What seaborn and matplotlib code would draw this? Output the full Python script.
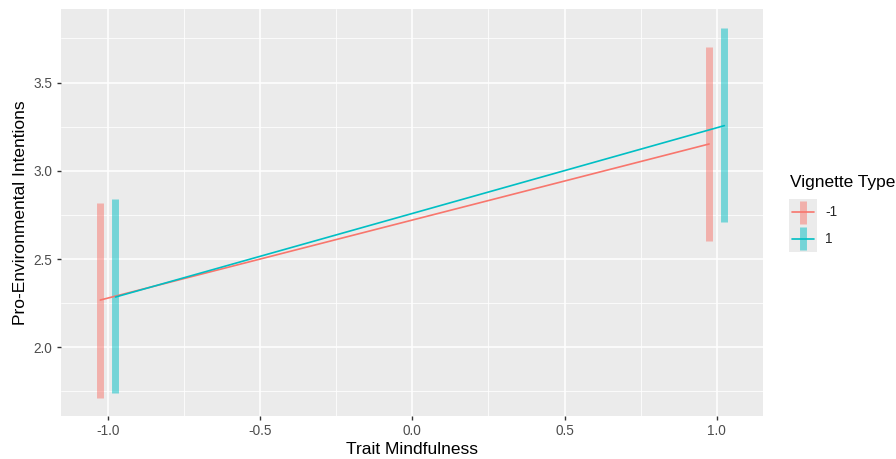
import numpy as np
import pandas as pd
import matplotlib
matplotlib.use("Agg")
import matplotlib.pyplot as plt
import seaborn as sns
from matplotlib.lines import Line2D
from matplotlib.patches import Rectangle
from matplotlib.legend_handler import HandlerBase

# ---- data ----
trait = [-1.0, 1.0]
groups = ["-1", "1"]
mean_neg = [2.268, 3.152]
mean_pos = [2.285, 3.256]
low_neg = [1.714, 2.604]
high_neg = [2.818, 3.700]
low_pos = [1.741, 2.712]
high_pos = [2.840, 3.807]
x_ticks = [-1.0, -0.5, 0.0, 0.5, 1.0]
y_ticks = [2.0, 2.5, 3.0, 3.5]

colors = {"-1": "#F8766D", "1": "#00BFC4"}
dodge = {"-1": -0.025, "1": 0.025}

rows = []
for g, m, lo, hi in [("-1", mean_neg, low_neg, high_neg), ("1", mean_pos, low_pos, high_pos)]:
    for t, mm, l, h in zip(trait, m, lo, hi):
        rows.append(dict(trait=t, x=t + dodge[g], group=g, mean=mm, low=l, high=h))
df = pd.DataFrame(rows)

sns.set_theme(style="darkgrid")
plt.rcParams["font.family"] = ["Liberation Sans", "DejaVu Sans"]

W, H = 896, 459
fig = plt.figure(figsize=(W / 100, H / 100), dpi=100)
L, R, T, B = 60.7, 763, 9.3, 416
ax = fig.add_axes([L / W, 1 - B / H, (R - L) / W, (B - T) / H])
ax.set_facecolor("#EBEBEB")

for g in groups:
    sub = df[df.group == g]
    ax.vlines(sub.x, sub.low, sub.high, color=colors[g], alpha=0.5, lw=5,
              zorder=2)

sns.lineplot(data=df, x="x", y="mean", hue="group", palette=colors,
             hue_order=groups, lw=1.2, ax=ax, legend=False, zorder=3,
             estimator=None, sort=True)

ax.set_xlim(-1.155, 1.152)
ax.set_ylim(1.611, 3.915)
ax.set_xticks(x_ticks)
ax.set_xticklabels([f"{v:.1f}" for v in x_ticks])
ax.set_yticks(y_ticks)
ax.set_yticklabels([f"{v:.1f}" for v in y_ticks])
ax.set_xticks([-0.75, -0.25, 0.25, 0.75], minor=True)
ax.set_yticks([1.75, 2.25, 2.75, 3.25, 3.75], minor=True)
ax.grid(which="major", color="white", lw=1.1)
ax.grid(which="minor", color="white", lw=0.55)
for s in ax.spines.values():
    s.set_visible(False)
ax.tick_params(axis="both", which="major", length=3, width=1, color="#333333",
               labelsize=9.8, labelcolor="#4D4D4D", pad=3, bottom=True, left=True)
ax.tick_params(axis="both", which="minor", length=0)
ax.set_xlabel("Trait Mindfulness", fontsize=12.5, color="black", labelpad=3)
ax.set_ylabel("Pro-Environmental Intentions", fontsize=12.5, color="black", labelpad=4)


class KeyHandler(HandlerBase):
    def create_artists(self, legend, orig_handle, xdescent, ydescent, width,
                       height, fontsize, trans):
        c = orig_handle.get_color()
        bg = Rectangle((-xdescent, -ydescent), width, height, facecolor="#EBEBEB",
                       edgecolor="none", transform=trans)
        cx = -xdescent + width / 2
        cy = -ydescent + height / 2
        vb = Line2D([cx, cx], [-ydescent + 1.2, -ydescent + height - 1.2], color=c,
                    alpha=0.5, lw=5, solid_capstyle="butt", transform=trans)
        hl = Line2D([cx - 8, cx + 8], [cy, cy], color=c,
                    lw=1.2, transform=trans)
        return [bg, vb, hl]


fig.text(790 / W, 1 - 182 / H, "Vignette Type", fontsize=12.5, va="center",
         ha="left", color="black")
handles = [Line2D([0], [0], color=colors[g]) for g in groups]
fs = 9.8
fpx = fs * 100 / 72
key_h = 26.5 / fpx
hh = (key_h - 0.245) / 0.65
leg = fig.legend(handles, groups,
                 handler_map={Line2D: KeyHandler()},
                 loc="upper left", bbox_to_anchor=(789 / W, 1 - 199 / H),
                 frameon=False, fontsize=fs,
                 handlelength=28 / fpx, handleheight=hh,
                 handletextpad=0.6, labelspacing=0.0, borderaxespad=0, borderpad=0)

fig.savefig("out.png", dpi=100)
